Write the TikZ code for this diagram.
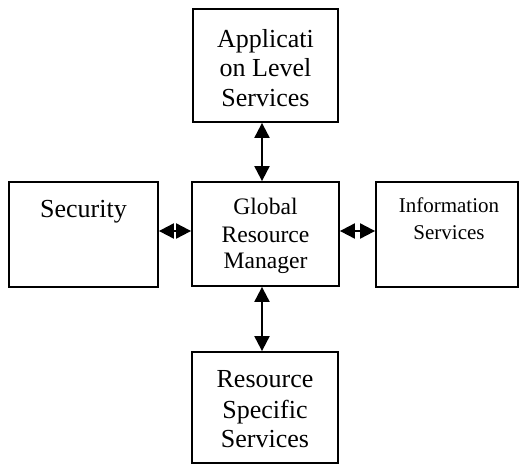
\documentclass[tikz,border=0pt]{standalone}
\usepackage{fontspec}
\setmainfont{Liberation Serif}
\usetikzlibrary{arrows.meta}
\tikzset{
  box/.style={draw=black, line width=1.8pt, inner sep=0pt},
  arr/.style={line width=2pt, {Triangle[length=15pt,width=15pt]}-{Triangle[length=15pt,width=15pt]}},
  big/.style={inner sep=0pt, anchor=base, font=\fontsize{26}{30}\selectfont},
  mid/.style={inner sep=0pt, anchor=base, font=\fontsize{23.6}{27}\selectfont},
  small/.style={inner sep=0pt, anchor=base, font=\fontsize{21}{25}\selectfont}
}
\begin{document}
\begin{tikzpicture}[x=1pt,y=-1pt]
\useasboundingbox (0,0) rectangle (520,464);
% boxes
\node[box, minimum width=145pt, minimum height=113pt] (app) at (265.5,65.5) {};
\node[box, minimum width=147pt, minimum height=104pt] (grm) at (265.5,234) {};
\node[box, minimum width=149pt, minimum height=105pt] (sec) at (83.5,234.5) {};
\node[box, minimum width=142pt, minimum height=105pt] (inf) at (447,234.5) {};
\node[box, minimum width=146pt, minimum height=111pt] (rss) at (265,407.5) {};
% texts
\node[big] (t1) at (265.5,47) {Applicati};
\node[big] (t2) at (265.5,76) {on Level};
\node[big] (t3) at (265.5,106) {Services};
\node[big] (t4) at (83.5,217) {Security};
\node[mid] (t5) at (265.5,214) {Global};
\node[mid] (t6) at (265.5,242) {Resource};
\node[mid] (t7) at (265.5,268) {Manager};
\node[small] (t8) at (449,212) {Information};
\node[small] (t9) at (449,239) {Services};
\node[big] (t10) at (265,387) {Resource};
\node[big] (t11) at (265,418) {Specific};
\node[big] (t12) at (265,447) {Services};
% connectors
\coordinate (ax) at (262,0);
\coordinate (ay) at (0,231);
\draw[arr] (app.south -| ax) -- (grm.north -| ax);
\draw[arr] (grm.south -| ax) -- (rss.north -| ax);
\draw[arr] (sec.east |- ay) -- (grm.west |- ay);
\draw[arr] (grm.east |- ay) -- (inf.west |- ay);
\end{tikzpicture}
\end{document}
